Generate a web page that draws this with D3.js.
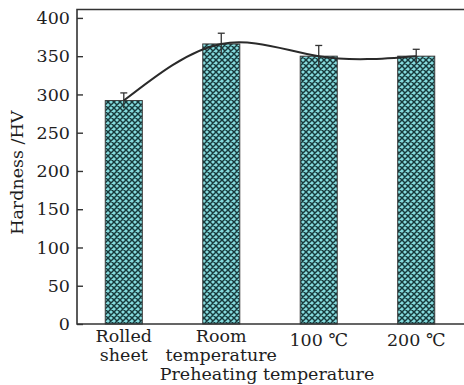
<!DOCTYPE html>
<html>
<head>
<meta charset="utf-8">
<script src="https://cdn.jsdelivr.net/npm/d3@7"></script>
<style>
  html, body { margin: 0; padding: 0; background: #fff; }
  svg { display: block; }
  text { font-family: "DejaVu Serif", "Liberation Serif", serif; fill: #1e1e1e; }
</style>
</head>
<body>
<svg id="chart" width="464" height="385"></svg>
<script>
// Hardness of the samples by preheating condition
const categories = [["Rolled", "sheet"], ["Room", "temperature"], ["100 ℃"], ["200 ℃"]];
const hardness = [292, 366, 350, 350];
const hardnessErr = [10, 14, 14, 9];
const yTicks = [0, 50, 100, 150, 200, 250, 300, 350, 400];

const W = 464, H = 385;
const plotLeft = 77, plotRight = 463, plotTop = 9.5, plotBottom = 324;
const fontSize = 17.5;

const svg = d3.select("#chart");

// Cross-hatched cyan fill
const defs = svg.append("defs");
const pat = defs.append("pattern")
  .attr("id", "hatch")
  .attr("patternUnits", "userSpaceOnUse")
  .attr("width", 6).attr("height", 6)
  .attr("x", 0).attr("y", 0);
pat.append("rect").attr("width", 6).attr("height", 6).attr("fill", "#84dadd");
pat.append("path")
  .attr("d", "M0,0L6,6M0,6L6,0M-1,5L1,7M5,-1L7,1M-1,1L1,-1M5,7L7,5")
  .attr("stroke", "#17393b").attr("stroke-width", 1.45);

const x = d3.scaleBand()
  .domain(d3.range(categories.length))
  .range([plotLeft, plotRight])
  .paddingInner(0.62)
  .paddingOuter(0.29);

const y = d3.scaleLinear().domain([0, 411]).range([plotBottom, plotTop]);

// Bars
svg.append("g").selectAll("rect")
  .data(hardness)
  .join("rect")
  .attr("x", (d, i) => x(i))
  .attr("y", d => y(d))
  .attr("width", x.bandwidth())
  .attr("height", d => y(0) - y(d))
  .attr("fill", "url(#hatch)")
  .attr("stroke", "#3a3a3a")
  .attr("stroke-width", 1);

// Error bars
const eb = svg.append("g").attr("stroke", "#333").attr("stroke-width", 1.3);
hardness.forEach((v, i) => {
  const cx = x(i) + x.bandwidth() / 2;
  eb.append("line").attr("x1", cx).attr("x2", cx)
    .attr("y1", y(v - hardnessErr[i])).attr("y2", y(v + hardnessErr[i]));
  eb.append("line").attr("x1", cx - 3.5).attr("x2", cx + 3.5)
    .attr("y1", y(v + hardnessErr[i])).attr("y2", y(v + hardnessErr[i]));
});

// Smooth trend through the bar tops
const line = d3.line()
  .x((d, i) => x(i) + x.bandwidth() / 2)
  .y(d => y(d))
  .curve(d3.curveNatural);
svg.append("path")
  .datum(hardness)
  .attr("d", line)
  .attr("fill", "none")
  .attr("stroke", "#2a2a2a")
  .attr("stroke-width", 2);

// Frame: left axis, bottom axis and top line
const frame = svg.append("g").attr("stroke", "#333").attr("stroke-width", 1.6).attr("fill", "none");
frame.append("path").attr("d", `M${W},${plotTop}H${plotLeft}V${plotBottom}H${W}`);

// Y axis ticks and labels
const yAxis = d3.axisLeft(y).tickValues(yTicks).tickSizeInner(-6).tickSizeOuter(0).tickPadding(7);
const gy = svg.append("g").attr("transform", `translate(${plotLeft},0)`).call(yAxis);
gy.select(".domain").remove();
gy.selectAll(".tick line").attr("stroke", "#333").attr("stroke-width", 1.4);
gy.selectAll(".tick text")
  .attr("font-family", "DejaVu Serif, serif")
  .attr("font-size", fontSize)
  .attr("fill", "#1e1e1e");

// Category labels
const xl = svg.append("g");
categories.forEach((lines, i) => {
  const cx = x(i) + x.bandwidth() / 2;
  const t = xl.append("text")
    .attr("text-anchor", "middle")
    .attr("font-size", fontSize)
    .attr("x", cx)
    .attr("y", lines.length > 1 ? 342 : 346);
  lines.forEach((s, k) => {
    t.append("tspan").attr("x", cx).attr("dy", k === 0 ? 0 : 18.5).text(s);
  });
});

// Axis titles
svg.append("text")
  .attr("x", 267).attr("y", 380)
  .attr("text-anchor", "middle")
  .attr("font-size", fontSize)
  .text("Preheating temperature");

svg.append("text")
  .attr("transform", `translate(23,${(plotTop + plotBottom) / 2 + 6}) rotate(-90)`)
  .attr("text-anchor", "middle")
  .attr("font-size", fontSize)
  .text("Hardness /HV");
</script>
</body>
</html>
